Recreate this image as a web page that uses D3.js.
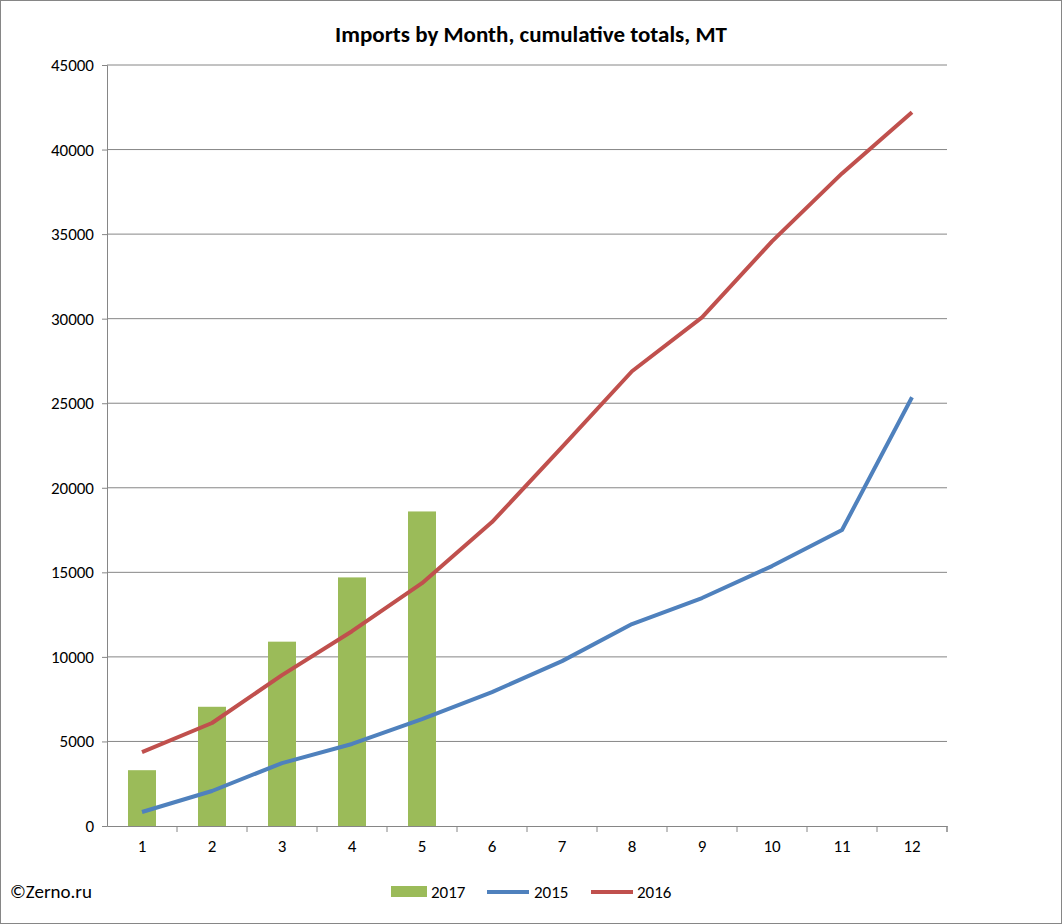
<!DOCTYPE html><html><head><meta charset="utf-8"><script src="https://cdn.jsdelivr.net/npm/d3@7"></script>
<style>body{margin:0;background:#fff}text{font-family:Calibri,Carlito,"Liberation Sans",Arial,sans-serif}</style></head><body><svg id="c" width="1062" height="924"></svg>
<script>
const months=["1","2","3","4","5","6","7","8","9","10","11","12"];
const s2017=[3300,7050,10900,14700,18600];
const s2015=[830,2070,3720,4850,6320,7920,9750,11940,13480,15370,17500,25350];
const s2016=[4370,6090,8920,11520,14360,17970,22400,26890,30080,34570,38590,42200];
const yTicks=[0,5000,10000,15000,20000,25000,30000,35000,40000,45000];
const svg=d3.select("#c");
svg.append("rect").attr("x",0.5).attr("y",0.5).attr("width",1061).attr("height",923).attr("fill","#fff").attr("stroke","#868686");
const L=107,R=947,T=65,B=826;
const x=d3.scaleBand().domain(months).range([L,R]);
const y=d3.scaleLinear().domain([0,45000]).range([B,T]);
svg.append("g").selectAll("line").data(yTicks.slice(1)).join("line").attr("x1",L).attr("x2",R).attr("y1",d=>y(d)).attr("y2",d=>y(d)).attr("stroke","#868686");
const ya=svg.append("g").attr("transform",`translate(${L},0)`).call(d3.axisLeft(y).tickValues(yTicks).tickSize(5).tickPadding(8).tickFormat(d3.format("d")));
const xa=svg.append("g").attr("transform",`translate(0,${B})`).call(d3.axisBottom(x).tickSize(0).tickPadding(14));
xa.selectAll(".tick").append("line").attr("x1",x.bandwidth()/2).attr("x2",x.bandwidth()/2).attr("y2",6).attr("stroke","#868686");
xa.append("line").attr("x1",R).attr("x2",R).attr("y2",6).attr("stroke","#868686");
[ya,xa].forEach(a=>{a.select(".domain").attr("stroke","#868686");a.selectAll(".tick line").attr("stroke","#868686");a.selectAll("text").attr("font-size",17).attr("fill","#000")});
const bw=28;
svg.append("g").selectAll("rect").data(s2017).join("rect").attr("x",(d,i)=>x(months[i])+x.bandwidth()/2-bw/2).attr("width",bw).attr("y",d=>y(d)).attr("height",d=>B-y(d)).attr("fill","#9bbb59");
const line=d3.line().x((d,i)=>x(months[i])+x.bandwidth()/2).y(d=>y(d));
svg.append("path").datum(s2015).attr("d",line).attr("fill","none").attr("stroke","#4f81bd").attr("stroke-width",4).attr("stroke-linejoin","round");
svg.append("path").datum(s2016).attr("d",line).attr("fill","none").attr("stroke","#c0504d").attr("stroke-width",4).attr("stroke-linejoin","round");
svg.append("text").attr("x",531).attr("y",42).attr("text-anchor","middle").attr("font-size",23).attr("font-weight","bold").text("Imports by Month, cumulative totals, MT");
svg.append("text").attr("x",10).attr("y",898).attr("font-size",19).text("©Zerno.ru");
const lg=svg.append("g");
lg.append("rect").attr("x",391).attr("y",886).attr("width",36).attr("height",11).attr("fill","#9bbb59");
lg.append("text").attr("x",431).attr("y",898).attr("font-size",17).text("2017");
lg.append("line").attr("x1",487).attr("x2",529).attr("y1",892).attr("y2",892).attr("stroke","#4f81bd").attr("stroke-width",4);
lg.append("text").attr("x",534).attr("y",898).attr("font-size",17).text("2015");
lg.append("line").attr("x1",591).attr("x2",633).attr("y1",892).attr("y2",892).attr("stroke","#c0504d").attr("stroke-width",4);
lg.append("text").attr("x",637).attr("y",898).attr("font-size",17).text("2016");
</script></body></html>
